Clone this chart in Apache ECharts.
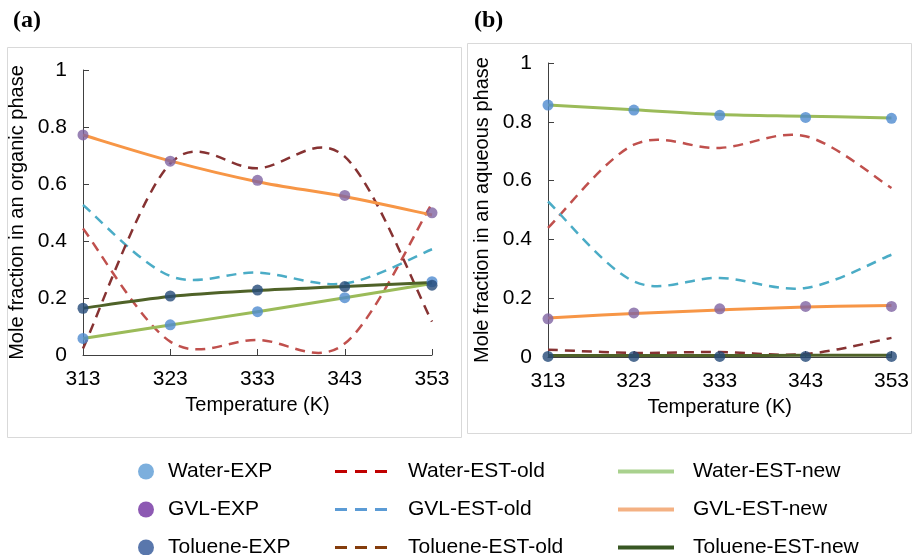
<!DOCTYPE html>
<html>
<head>
<meta charset="utf-8">
<script src="https://cdn.jsdelivr.net/npm/echarts@6/dist/echarts.min.js"></script>
<style>
  html, body { margin: 0; padding: 0; background: #fff; }
  #chart { width: 912px; height: 555px; }
</style>
</head>
<body>
<div id="chart"></div>
<script>
// 温度 (K)
var temps = ['313', '323', '333', '343', '353'];

// (a) organic phase
var waterExpA = [0.058, 0.106, 0.152, 0.201, 0.257];
var gvlExpA = [0.772, 0.680, 0.613, 0.560, 0.499];
var tolExpA = [0.164, 0.207, 0.228, 0.240, 0.245];
var waterOldA = [0.444, 0.047, 0.053, 0.040, 0.532];
var gvlOldA = [0.526, 0.277, 0.289, 0.251, 0.371];
var tolOldA = [0.023, 0.672, 0.655, 0.696, 0.117];
var waterNewA = [0.058, 0.105, 0.152, 0.201, 0.251];
var gvlNewA = [0.772, 0.681, 0.608, 0.556, 0.491];
var tolNewA = [0.164, 0.205, 0.226, 0.240, 0.254];

// (b) aqueous phase
var waterExpB = [0.857, 0.840, 0.822, 0.815, 0.812];
var gvlExpB = [0.130, 0.150, 0.164, 0.172, 0.172];
var tolExpB = [0.002, 0.002, 0.002, 0.002, 0.002];
var waterOldB = [0.439, 0.722, 0.711, 0.751, 0.575];
var gvlOldB = [0.529, 0.257, 0.269, 0.235, 0.348];
var tolOldB = [0.025, 0.014, 0.017, 0.010, 0.065];
var waterNewB = [0.857, 0.841, 0.825, 0.819, 0.813];
var gvlNewB = [0.133, 0.148, 0.160, 0.170, 0.175];
var tolNewB = [0.005, 0.005, 0.005, 0.006, 0.006];

var yTicks = [0, 0.2, 0.4, 0.6, 0.8, 1];

var FONT = '"Liberation Sans", Arial, sans-serif';

var chart = echarts.init(document.getElementById('chart'));

function xAxisFor(idx) {
  return {
    type: 'category',
    gridIndex: idx,
    data: temps,
    boundaryGap: false,
    name: 'Temperature (K)',
    nameLocation: 'middle',
    nameGap: 40,
    nameTextStyle: { fontFamily: FONT, fontSize: 20, color: '#000' },
    axisLine: { lineStyle: { color: '#404040', width: 1 } },
    axisTick: { inside: true, length: 6, lineStyle: { color: '#404040' } },
    axisLabel: { fontFamily: FONT, fontSize: 21, color: '#000', margin: 14 },
    splitLine: { show: false }
  };
}

function yAxisFor(idx, title) {
  return {
    type: 'value',
    gridIndex: idx,
    min: yTicks[0],
    max: yTicks[yTicks.length - 1],
    interval: 0.2,
    name: title,
    nameLocation: 'middle',
    nameGap: 56,
    nameTextStyle: { fontFamily: FONT, fontSize: 20, color: '#000' },
    axisLine: { show: true, lineStyle: { color: '#404040', width: 1 } },
    axisTick: { show: true, inside: true, length: 6, lineStyle: { color: '#404040' } },
    axisLabel: { fontFamily: FONT, fontSize: 21, color: '#000', margin: 16 },
    splitLine: { show: false }
  };
}

function expSeries(name, data, color, idx) {
  return {
    name: name, type: 'scatter', xAxisIndex: idx, yAxisIndex: idx,
    data: data, symbol: 'circle', symbolSize: 11, z: 5,
    itemStyle: { color: color }
  };
}

// Excel 风格的平滑曲线 (Catmull-Rom)，坐标由 api.coord 换算
function curveSeries(name, data, color, idx, dashed) {
  return {
    name: name, type: 'custom', xAxisIndex: idx, yAxisIndex: idx,
    data: data.map(function (v, i) { return [i, v]; }),
    encode: { x: 0, y: 1 },
    z: dashed ? 3 : 4,
    itemStyle: { color: color },
    renderItem: function (params, api) {
      if (params.dataIndex !== 0) return;
      var pts = data.map(function (v, i) { return api.coord([i, v]); });
      var n = pts.length;
      var d = 'M' + pts[0][0] + ' ' + pts[0][1];
      for (var i = 0; i < n - 1; i++) {
        var p0 = pts[Math.max(i - 1, 0)], p1 = pts[i], p2 = pts[i + 1], p3 = pts[Math.min(i + 2, n - 1)];
        var c1x = p1[0] + (p2[0] - p0[0]) / 6, c1y = p1[1] + (p2[1] - p0[1]) / 6;
        var c2x = p2[0] - (p3[0] - p1[0]) / 6, c2y = p2[1] - (p3[1] - p1[1]) / 6;
        d += ' C' + c1x + ' ' + c1y + ' ' + c2x + ' ' + c2y + ' ' + p2[0] + ' ' + p2[1];
      }
      return {
        type: 'path',
        shape: { pathData: d },
        style: { fill: 'none', stroke: color, lineWidth: dashed ? 2.5 : 3, lineDash: dashed ? [10, 7] : null }
      };
    }
  };
}

// 图中颜色
var cWaterExp = '#4f8bd0', cGvlExp = '#8064a2', cTolExp = '#244a78';
var cWaterOld = '#c0504d', cGvlOld = '#4bacc6', cTolOld = '#863232';
var cWaterNew = '#9bbb59', cGvlNew = '#f79646', cTolNew = '#4f6228';

var series = [];
[[0, waterExpA, gvlExpA, tolExpA, waterOldA, gvlOldA, tolOldA, waterNewA, gvlNewA, tolNewA],
 [1, waterExpB, gvlExpB, tolExpB, waterOldB, gvlOldB, tolOldB, waterNewB, gvlNewB, tolNewB]
].forEach(function (p) {
  var i = p[0];
  series.push(curveSeries('Water-EST-old', p[4], cWaterOld, i, true));
  series.push(curveSeries('GVL-EST-old', p[5], cGvlOld, i, true));
  series.push(curveSeries('Toluene-EST-old', p[6], cTolOld, i, true));
  series.push(curveSeries('Water-EST-new', p[7], cWaterNew, i, false));
  series.push(curveSeries('GVL-EST-new', p[8], cGvlNew, i, false));
  series.push(curveSeries('Toluene-EST-new', p[9], cTolNew, i, false));
  series.push(expSeries('Water-EXP', p[1], cWaterExp, i));
  series.push(expSeries('GVL-EXP', p[2], cGvlExp, i));
  series.push(expSeries('Toluene-EXP', p[3], cTolExp, i));
});

var legendText = { fontFamily: FONT, fontSize: 21, color: '#000', lineHeight: 20 };
var dashIcon = 'path://M0,0H12V3H0Z M20,0H32V3H20Z M40,0H52V3H40Z';
var lineIcon = 'path://M0,0H56V4H0Z';

var option = {
  animation: false,
  backgroundColor: '#fff',
  graphic: [
    { type: 'rect', shape: { x: 7.5, y: 47.5, width: 454, height: 390 }, style: { fill: 'none', stroke: '#d9d9d9', lineWidth: 1 }, silent: true },
    { type: 'rect', shape: { x: 467.5, y: 43.5, width: 444, height: 390 }, style: { fill: 'none', stroke: '#d9d9d9', lineWidth: 1 }, silent: true },
    { type: 'text', left: 13, top: 9, style: { text: '(a)', font: 'bold 24px "Liberation Serif", "Times New Roman", serif', fill: '#000' } },
    { type: 'text', left: 474, top: 9, style: { text: '(b)', font: 'bold 24px "Liberation Serif", "Times New Roman", serif', fill: '#000' } }
  ],
  grid: [
    { left: 83, right: 480, top: 70, bottom: 200 },
    { left: 548, right: 20, top: 63, bottom: 198 }
  ],
  xAxis: [xAxisFor(0), xAxisFor(1)],
  yAxis: [
    yAxisFor(0, 'Mole fraction in an organic phase'),
    yAxisFor(1, 'Mole fraction in an aqueous phase')
  ],
  legend: [
    {
      orient: 'vertical', left: 138, top: 461, height: 110, padding: 0,
      itemWidth: 26, itemHeight: 16, itemGap: 17,
      textStyle: Object.assign({ padding: [0, 0, 0, 4] }, legendText), icon: 'circle',
      data: [
        { name: 'Water-EXP', itemStyle: { color: '#5b9bd5' } },
        { name: 'GVL-EXP', itemStyle: { color: '#7030a0' } },
        { name: 'Toluene-EXP', itemStyle: { color: '#2f5597' } }
      ]
    },
    {
      orient: 'vertical', left: 335, top: 461, height: 110, padding: 0,
      itemWidth: 52, itemHeight: 3, itemGap: 17,
      textStyle: Object.assign({ padding: [0, 0, 0, 16] }, legendText),
      data: [
        { name: 'Water-EST-old', icon: dashIcon, itemStyle: { color: '#c00000' } },
        { name: 'GVL-EST-old', icon: dashIcon, itemStyle: { color: '#5b9bd5' } },
        { name: 'Toluene-EST-old', icon: dashIcon, itemStyle: { color: '#843c0c' } }
      ]
    },
    {
      orient: 'vertical', left: 618, top: 461, height: 110, padding: 0,
      itemWidth: 56, itemHeight: 4, itemGap: 17,
      textStyle: Object.assign({ padding: [0, 0, 0, 14] }, legendText),
      data: [
        { name: 'Water-EST-new', icon: lineIcon, itemStyle: { color: '#a9d18e' } },
        { name: 'GVL-EST-new', icon: lineIcon, itemStyle: { color: '#f4b183' } },
        { name: 'Toluene-EST-new', icon: lineIcon, itemStyle: { color: '#385723' } }
      ]
    }
  ],
  series: series
};

chart.setOption(option);
</script>
</body>
</html>
